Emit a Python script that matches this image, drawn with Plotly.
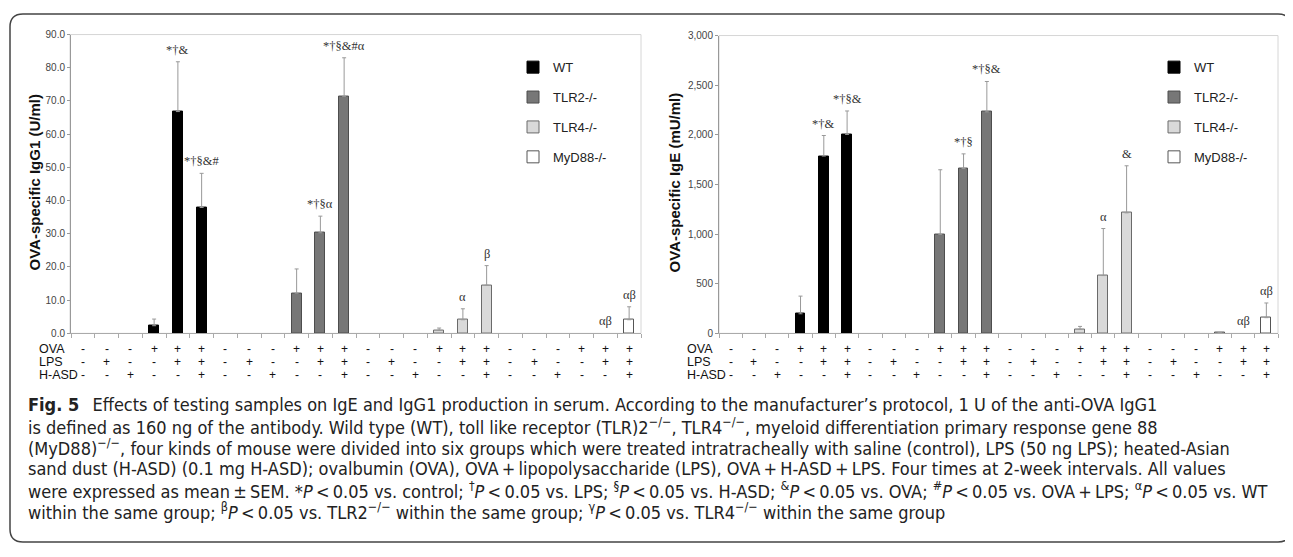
import plotly.graph_objects as go

OFF = 8  # page body margin that the browser adds around the figure
W, H = 1293 - OFF, 557 - 2 * OFF  # figure fits the window with no scrolling

# ---------------- data ----------------
genotypes = ["WT", "TLR2-/-", "TLR4-/-", "MyD88-/-"]
ova_row = ["-", "-", "-", "+", "+", "+"]
lps_row = ["-", "+", "-", "-", "+", "+"]
hasd_row = ["-", "-", "+", "-", "-", "+"]

igg1_wt = [0, 0, 0, 2.3, 66.8, 37.9]
igg1_tlr2 = [0, 0, 0, 12.1, 30.3, 71.4]
igg1_tlr4 = [0, 0, 0, 0.9, 4.1, 14.5]
igg1_myd88 = [0, 0, 0, 0, 0, 4.1]
igg1_wt_err = [0, 0, 0, 2.0, 15.0, 10.3]
igg1_tlr2_err = [0, 0, 0, 7.3, 5.0, 11.6]
igg1_tlr4_err = [0, 0, 0, 0.7, 3.3, 5.9]
igg1_myd88_err = [0, 0, 0, 0, 0, 3.9]
igg1_sig_wt = ["", "", "", "", "*†&", "*†§&#"]
igg1_sig_tlr2 = ["", "", "", "", "*†§α", "*†§&#α"]
igg1_sig_tlr4 = ["", "", "", "", "α", "β"]
igg1_sig_myd88 = ["", "", "", "", "αβ", "αβ"]

ige_wt = [0, 0, 0, 197, 1786, 2004]
ige_tlr2 = [0, 0, 0, 997, 1660, 2231]
ige_tlr4 = [0, 0, 0, 40, 582, 1214]
ige_myd88 = [0, 0, 0, 8, 0, 158]
ige_wt_err = [0, 0, 0, 178, 207, 236]
ige_tlr2_err = [0, 0, 0, 651, 148, 306]
ige_tlr4_err = [0, 0, 0, 30, 474, 474]
ige_myd88_err = [0, 0, 0, 0, 0, 148]
ige_sig_wt = ["", "", "", "", "*†&", "*†§&"]
ige_sig_tlr2 = ["", "", "", "", "*†§", "*†§&"]
ige_sig_tlr4 = ["", "", "", "", "α", "&"]
ige_sig_myd88 = ["", "", "", "", "αβ", "αβ"]

igg1_ticks = [0, 10, 20, 30, 40, 50, 60, 70, 80, 90]
ige_ticks = [0, 500, 1000, 1500, 2000, 2500, 3000]

caption_lines = [
    "<b>Fig. 5</b>\u2002 Effects of testing samples on IgE and IgG1 production in serum. According to the manufacturer’s protocol, 1 U of the anti-OVA IgG1",
    "is defined as 160 ng of the antibody. Wild type (WT), toll like receptor (TLR)2<sup>−/−</sup>, TLR4<sup>−/−</sup>, myeloid differentiation primary response gene 88",
    "(MyD88)<sup>−/−</sup>, four kinds of mouse were divided into six groups which were treated intratracheally with saline (control), LPS (50 ng LPS); heated-Asian",
    "sand dust (H-ASD) (0.1 mg H-ASD); ovalbumin (OVA), OVA\u2009+\u2009lipopolysaccharide (LPS), OVA\u2009+\u2009H-ASD\u2009+\u2009LPS. Four times at 2-week intervals. All values",
    "were expressed as mean\u2009±\u2009SEM. *<i>P</i>\u2009<\u20090.05 vs. control; <sup>†</sup><i>P</i>\u2009<\u20090.05 vs. LPS; <sup>§</sup><i>P</i>\u2009<\u20090.05 vs. H-ASD; <sup>&</sup><i>P</i>\u2009<\u20090.05 vs. OVA; <sup>#</sup><i>P</i>\u2009<\u20090.05 vs. OVA\u2009+\u2009LPS; <sup>α</sup><i>P</i>\u2009<\u20090.05 vs. WT",
    "within the same group; <sup>β</sup><i>P</i>\u2009<\u20090.05 vs. TLR2<sup>−/−</sup> within the same group; <sup>γ</sup><i>P</i>\u2009<\u20090.05 vs. TLR4<sup>−/−</sup> within the same group",
]

# ---------------- styles ----------------
fills = ["#000000", "#777777", "#d9d9d9", "#ffffff"]
lines = ["#000000", "#4d4d4d", "#6a6a6a", "#555555"]
SANS = "Liberation Sans"
SERIF = "Liberation Serif"
CAPTION_FONT = "DejaVu Sans Condensed, DejaVu Sans"


def px_x(p):
    return (p - OFF) / W


def px_y(p):
    return 1 - (p - OFF) / H


fig = go.Figure()

panels = [
    dict(means=[igg1_wt, igg1_tlr2, igg1_tlr4, igg1_myd88],
         errs=[igg1_wt_err, igg1_tlr2_err, igg1_tlr4_err, igg1_myd88_err],
         sigs=[igg1_sig_wt, igg1_sig_tlr2, igg1_sig_tlr4, igg1_sig_myd88],
         xa="x", ya="y", legend="legend"),
    dict(means=[ige_wt, ige_tlr2, ige_tlr4, ige_myd88],
         errs=[ige_wt_err, ige_tlr2_err, ige_tlr4_err, ige_myd88_err],
         sigs=[ige_sig_wt, ige_sig_tlr2, ige_sig_tlr4, ige_sig_myd88],
         xa="x2", ya="y2", legend="legend2"),
]

ann = []
ntreat = len(ova_row)
for p in panels:
    for g, name in enumerate(genotypes):
        xs = [g * ntreat + j for j in range(ntreat)]
        m = p["means"][g]
        e = p["errs"][g]
        fig.add_trace(go.Bar(
            x=xs, y=[v if v else None for v in m], name=name, width=0.42,
            marker=dict(color=fills[g], line=dict(color=lines[g], width=1)),
            error_y=dict(type="data", array=[v if v else None for v in e],
                         arrayminus=[0] * ntreat, symmetric=False,
                         color="#999999", thickness=1, width=2),
            xaxis=p["xa"], yaxis=p["ya"], legend=p["legend"],
            legendgroup=p["legend"] + name,
        ))
        for j in range(ntreat):
            s = p["sigs"][g][j]
            if s:
                ann.append(dict(
                    x=xs[j], y=m[j] + e[j],
                    xref=p["xa"], yref=p["ya"], text=s, showarrow=False,
                    xanchor="center", yanchor="bottom", yshift=3,
                    font=dict(family=SERIF, size=12.5, color="#333333")))

# treatment table
row_y = [351, 364, 378]
row_names = ["OVA", "LPS", "H-ASD"]
rows = [ova_row, lps_row, hasd_row]
for xa, lab_x in [("x", 37), ("x2", 685)]:
    for r in range(3):
        ann.append(dict(x=px_x(lab_x), y=px_y(row_y[r]), xref="paper", yref="paper",
                        text=row_names[r], showarrow=False, xanchor="left", yanchor="middle",
                        font=dict(family=SANS, size=12.5, color="#111111")))
        for g in range(len(genotypes)):
            for j in range(ntreat):
                ann.append(dict(x=g * ntreat + j, y=px_y(row_y[r]), xref=xa, yref="paper",
                                text=rows[r][j], showarrow=False,
                                xanchor="center", yanchor="middle",
                                font=dict(family=SANS, size=12, color="#111111")))

# y titles
for x_, t in [(34, "OVA-specific IgG1 (U/ml)"), (674, "OVA-specific IgE (mU/ml)")]:
    ann.append(dict(x=px_x(x_), y=px_y(181), xref="paper", yref="paper", text="<b>" + t + "</b>",
                    showarrow=False, textangle=-90, xanchor="center", yanchor="middle",
                    font=dict(family=SANS, size=15, color="#111111")))

# caption
for i, line in enumerate(caption_lines):
    ann.append(dict(x=px_x(26), y=px_y(408 + i * 21.6), xref="paper", yref="paper",
                    text=line, showarrow=False, xanchor="left", yanchor="middle",
                    font=dict(family=CAPTION_FONT, size=18, color="#222222")))

# shapes: outer frame + chart boxes
x0, x1 = px_x(10), px_x(1291)
y1, y0 = px_y(9), px_y(548)
rx, ry = 13 / W, 13 / H
frame = (f"M{x0+rx},{y1} L{x1-rx},{y1} Q{x1},{y1} {x1},{y1-ry} L{x1},{y0+ry} "
         f"Q{x1},{y0} {x1-rx},{y0} L{x0+rx},{y0} Q{x0},{y0} {x0},{y0+ry} "
         f"L{x0},{y1-ry} Q{x0},{y1} {x0+rx},{y1} Z")
shapes = [
    dict(type="path", path=frame, xref="paper", yref="paper",
         line=dict(color="#444444", width=1.5), layer="below"),
    dict(type="rect", xref="paper", yref="paper", x0=px_x(70), x1=px_x(641),
         y0=px_y(335), y1=px_y(30), line=dict(color="#d6d6d6", width=1), layer="below"),
    dict(type="rect", xref="paper", yref="paper", x0=px_x(719), x1=px_x(1278),
         y0=px_y(335), y1=px_y(31), line=dict(color="#d6d6d6", width=1), layer="below"),
]

xcommon = dict(range=[-0.5, 23.5], tickvals=[k - 0.5 for k in range(25)],
               showticklabels=False, ticks="outside", ticklen=4, tickcolor="#aaaaaa",
               showline=True, linecolor="#aaaaaa", linewidth=1, showgrid=False,
               zeroline=False, fixedrange=True)
ycommon = dict(ticks="outside", ticklen=3, tickcolor="#999999", showline=True,
               linecolor="#999999", linewidth=1, showgrid=False, zeroline=False,
               tickfont=dict(family=SANS, size=10, color="#444444"))

legend_common = dict(xanchor="left", yanchor="top", tracegroupgap=10,
                     bgcolor="rgba(0,0,0,0)",
                     font=dict(family=SANS, size=13, color="#222222"))

fig.update_layout(
    width=W, height=H, autosize=False,
    margin=dict(l=0, r=0, t=0, b=0),
    paper_bgcolor="white", plot_bgcolor="rgba(0,0,0,0)",
    barmode="overlay", bargap=0,
    xaxis=dict(domain=[px_x(71), px_x(641)], anchor="y", **xcommon),
    yaxis=dict(domain=[px_y(335), px_y(30)], anchor="x", range=[0, 90],
               tickvals=igg1_ticks, tickformat=".1f", **ycommon),
    xaxis2=dict(domain=[px_x(719), px_x(1278)], anchor="y2", **xcommon),
    yaxis2=dict(domain=[px_y(335), px_y(31)], anchor="x2", range=[0, 3000],
                tickvals=ige_ticks, tickformat=",d", **ycommon),
    legend=dict(x=px_x(513), y=px_y(48), **legend_common),
    legend2=dict(x=px_x(1154), y=px_y(48), **legend_common),
    annotations=ann, shapes=shapes, showlegend=True,
)

fig.write_html("out.html")
